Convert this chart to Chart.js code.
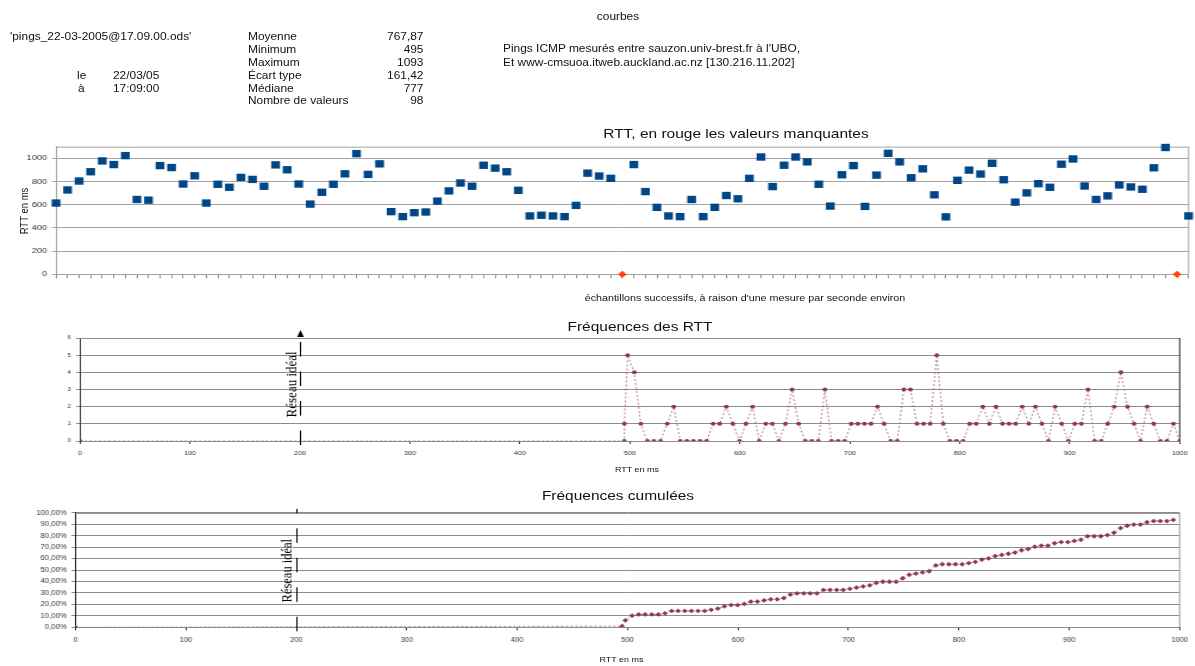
<!DOCTYPE html>
<html lang="fr">
<head>
<meta charset="utf-8">
<title>courbes</title>
<script src="https://cdn.jsdelivr.net/npm/chart.js@4.4.1/dist/chart.umd.min.js"></script>
<style>
  html, body { margin: 0; padding: 0; background: #fff; overflow: hidden; }
  /* l'original est étiré en largeur : on dessine à l'échelle 1 puis on étire */
  #page { --s: 1.19; position: absolute; left: 0; top: 0; width: calc(1195px / 1.19); height: 666px;
          transform: scaleX(1.19); transform-origin: 0 0; }
  .t { position: absolute; white-space: nowrap; font-family: "Liberation Sans", Arial, sans-serif;
       font-size: 10px; line-height: 1; color: #111; transform: translate(0, -50%); }
  .c { transform: translate(-50%, -50%); }
  .r { transform: translate(-100%, -50%); }
  .v { transform: translate(-50%, -50%) rotate(-90deg); }
  .titre { font-size: 13px; }
  canvas { position: absolute; left: 0; }
</style>
</head>
<body>
<div id="page">
  <!-- en-tête -->
  <div class="t" style="left:calc(10px / var(--s)); top:37px">'pings_22-03-2005@17.09.00.ods'</div>
  <div class="t" style="left:calc(77px / var(--s)); top:76px">le</div>
  <div class="t" style="left:calc(113px / var(--s)); top:76px">22/03/05</div>
  <div class="t" style="left:calc(78px / var(--s)); top:88.7px">à</div>
  <div class="t" style="left:calc(113px / var(--s)); top:88.7px">17:09:00</div>

  <div class="t" style="left:calc(248px / var(--s)); top:37px">Moyenne</div>
  <div class="t" style="left:calc(248px / var(--s)); top:50px">Minimum</div>
  <div class="t" style="left:calc(248px / var(--s)); top:63px">Maximum</div>
  <div class="t" style="left:calc(248px / var(--s)); top:75.7px">Écart type</div>
  <div class="t" style="left:calc(248px / var(--s)); top:88.5px">Médiane</div>
  <div class="t" style="left:calc(248px / var(--s)); top:101px">Nombre de valeurs</div>
  <div class="t r" style="left:calc(423.5px / var(--s)); top:37px">767,87</div>
  <div class="t r" style="left:calc(423.5px / var(--s)); top:50px">495</div>
  <div class="t r" style="left:calc(423.5px / var(--s)); top:63px">1093</div>
  <div class="t r" style="left:calc(423.5px / var(--s)); top:75.7px">161,42</div>
  <div class="t r" style="left:calc(423.5px / var(--s)); top:88.5px">777</div>
  <div class="t r" style="left:calc(423.5px / var(--s)); top:101px">98</div>

  <div class="t c" style="left:calc(618px / var(--s)); top:17.3px">courbes</div>
  <div class="t" style="left:calc(503px / var(--s)); top:49.3px">Pings ICMP mesurés entre sauzon.univ-brest.fr à l'UBO,</div>
  <div class="t" style="left:calc(503px / var(--s)); top:62.7px">Et www-cmsuoa.itweb.auckland.ac.nz [130.216.11.202]</div>

  <!-- titres des graphiques -->
  <div class="t c titre" style="left:calc(736px / var(--s)); top:132.7px">RTT, en rouge les valeurs manquantes</div>
  <div class="t v" style="left:calc(24px / var(--s)); top:211px; font-size:9.5px">RTT en ms</div>
  <div class="t c" style="left:calc(745px / var(--s)); top:297.7px; font-size:9px">échantillons successifs, à raison d'une mesure par seconde environ</div>

  <div class="t c titre" style="left:calc(640px / var(--s)); top:326px">Fréquences des RTT</div>
  <div class="t c" style="left:calc(637px / var(--s)); top:470px; font-size:7.5px">RTT en ms</div>

  <div class="t c titre" style="left:calc(618px / var(--s)); top:495px">Fréquences cumulées</div>
  <div class="t c" style="left:calc(621.5px / var(--s)); top:660px; font-size:7.5px">RTT en ms</div>

  <canvas id="rtt" width="1004" height="145" style="top:138px"></canvas>
  <canvas id="freq" width="1004" height="135" style="top:330px"></canvas>
  <canvas id="cumul" width="1004" height="145" style="top:505px"></canvas>
</div>

<script>
const S = 1.19;             // étirement horizontal de l'image d'origine
const u = v => v / S;       // px de référence -> px du canvas

// --- Données ---
// RTT successifs (ms), null = valeur manquante (en rouge)
const rtt = [
  614, 727, 804, 884, 977, 946, 1023, 645, 639, 937,
  920, 778, 849, 614, 776, 750, 835, 818, 759, 943,
  901, 778, 605, 707, 776, 866, 1040, 861, 952, 540,
  497, 531, 537, 631, 719, 787, 759, 940, 915, 884,
  724, 503, 509, 503, 497, 594, 872, 847, 827, null,
  946, 713, 577, 503, 497, 645, 497, 577, 679, 651,
  827, 1011, 756, 940, 1011, 969, 776, 588, 858, 937,
  585, 855, 1043, 969, 832, 909, 685, 495, 810, 898,
  864, 957, 815, 622, 702, 781, 750, 949, 994, 761,
  645, 676, 770, 753, 733, 918, 1093, null, 503
];
const echantillons = rtt.map((_, i) => i + 1);
const manquantes = rtt.map(v => (v === null ? 0 : null));

// classes de RTT (ms) de l'histogramme
const classesRTT = [
  495, 498.0, 504.0, 510.0, 515.9, 521.9, 527.9, 533.9, 539.9, 545.8,
  551.8, 557.8, 563.8, 569.8, 575.7, 581.7, 587.7, 593.7, 599.7, 605.6,
  611.6, 617.6, 623.6, 629.6, 635.5, 641.5, 647.5, 653.5, 659.5, 665.4,
  671.4, 677.4, 683.4, 689.4, 695.3, 701.3, 707.3, 713.3, 719.3, 725.2,
  731.2, 737.2, 743.2, 749.2, 755.1, 761.1, 767.1, 773.1, 779.1, 785.0,
  791.0, 797.0, 803.0, 809.0, 814.9, 820.9, 826.9, 832.9, 838.9, 844.8,
  850.8, 856.8, 862.8, 868.8, 874.7, 880.7, 886.7, 892.7, 898.7, 904.6,
  910.6, 916.6, 922.6, 928.6, 934.5, 940.5, 946.5, 952.5, 958.5, 964.4,
  970.4, 976.4, 982.4, 988.4, 994.3
];
const frequences = [
  1, 5, 4, 1, 0, 0, 0, 1, 2, 0,
  0, 0, 0, 0, 1, 1, 2, 1, 0, 1,
  2, 0, 1, 1, 0, 1, 3, 1, 0, 0,
  0, 3, 0, 0, 0, 1, 1, 1, 1, 2,
  1, 0, 0, 3, 3, 1, 1, 1, 5, 1,
  0, 0, 0, 1, 1, 2, 1, 2, 1, 1,
  1, 2, 1, 2, 1, 0, 2, 1, 0, 1,
  1, 3, 0, 0, 1, 2, 4, 2, 1, 0,
  2, 1, 0, 0, 1
];
const frequencesCumulees = [
  1.02, 6.12, 10.20, 11.22, 11.22, 11.22, 11.22, 12.24, 14.29, 14.29,
  14.29, 14.29, 14.29, 14.29, 15.31, 16.33, 18.37, 19.39, 19.39, 20.41,
  22.45, 22.45, 23.47, 24.49, 24.49, 25.51, 28.57, 29.59, 29.59, 29.59,
  29.59, 32.65, 32.65, 32.65, 32.65, 33.67, 34.69, 35.71, 36.73, 38.78,
  39.80, 39.80, 39.80, 42.86, 45.92, 46.94, 47.96, 48.98, 54.08, 55.10,
  55.10, 55.10, 55.10, 56.12, 57.14, 59.18, 60.20, 62.24, 63.27, 64.29,
  65.31, 67.35, 68.37, 70.41, 71.43, 71.43, 73.47, 74.49, 74.49, 75.51,
  76.53, 79.59, 79.59, 79.59, 80.61, 82.65, 86.73, 88.78, 89.80, 89.80,
  91.84, 92.86, 92.86, 92.86, 93.88
];
const reseauIdeal = 200; // ms

// --- Plugins ---
// trait du haut et de droite de la zone de tracé
const cadre = {
  id: 'cadre',
  beforeDatasetsDraw(chart, args, opts) {
    const { ctx, chartArea: a } = chart;
    ctx.save();
    ctx.lineWidth = 1;
    ctx.strokeStyle = opts.haut;
    ctx.beginPath();
    ctx.moveTo(a.left, a.top + 0.5);
    ctx.lineTo(a.right, a.top + 0.5);
    ctx.stroke();
    ctx.strokeStyle = opts.droite;
    ctx.beginPath();
    ctx.moveTo(a.right, a.top);
    ctx.lineTo(a.right, a.bottom);
    ctx.stroke();
    ctx.restore();
  }
};

// ligne verticale "Réseau idéal"
const repere = {
  id: 'repere',
  afterDatasetsDraw(chart, args, opts) {
    const { ctx, scales: { x, y } } = chart;
    const px = Math.round(x.getPixelForValue(opts.valeur)) + 0.5;
    ctx.save();
    ctx.strokeStyle = '#000';
    ctx.lineWidth = 1;
    ctx.setLineDash([14.5, 15]);
    ctx.beginPath();
    ctx.moveTo(px, y.bottom + 4);
    ctx.lineTo(px, y.top - opts.depasse);
    ctx.stroke();
    ctx.setLineDash([]);
    if (opts.fleche) {
      ctx.fillStyle = '#000';
      ctx.beginPath();
      ctx.moveTo(px, y.top - 8);
      ctx.lineTo(px + 2.8, y.top - 1);
      ctx.lineTo(px - 2.8, y.top - 1);
      ctx.closePath();
      ctx.fill();
    }
    ctx.translate(px - 7.3, y.getPixelForValue(opts.texteY));
    ctx.rotate(-Math.PI / 2);
    ctx.font = opts.police;
    ctx.fillStyle = '#000';
    ctx.textAlign = 'center';
    ctx.textBaseline = 'middle';
    ctx.fillText('Réseau idéal', 0, 0);
    ctx.restore();
  }
};

const police = (taille) => ({ family: '"Liberation Sans", Arial, sans-serif', size: taille });
const brut = v => String(v);   // pas de séparateur de milliers
const pourcent = v => v.toFixed(2).replace('.', ',') + '%';

// --- Graphique 1 : RTT ---
new Chart(document.getElementById('rtt'), {
  type: 'line',
  data: {
    labels: echantillons,
    datasets: [
      {
        data: rtt, showLine: false, clip: false,
        pointStyle: 'rect', pointRadius: 5.2, pointBorderWidth: 0,
        backgroundColor: '#004586', borderColor: '#004586'
      },
      {
        data: manquantes, showLine: false, clip: false,
        pointStyle: 'rectRot', pointRadius: 3.6, pointBorderWidth: 0,
        backgroundColor: '#ff420e', borderColor: '#ff420e'
      }
    ]
  },
  options: {
    responsive: false, animation: false, events: [],
    layout: { padding: { top: 7, right: u(4), left: 0, bottom: 0 } },
    plugins: {
      legend: { display: false }, tooltip: { enabled: false },
      cadre: { haut: '#a3a3a3', droite: '#a3a3a3' }
    },
    scales: {
      x: {
        type: 'category', offset: false,
        grid: { drawOnChartArea: false, drawTicks: true, tickLength: 4, color: '#8f8f8f' },
        border: { display: false },
        ticks: { display: false },
        afterFit: s => { s.height = 8.7; }
      },
      y: {
        min: 0, max: 1100,
        ticks: { stepSize: 200, includeBounds: false, padding: 4, color: '#333', font: police(7.8), callback: brut },
        grid: { color: '#a3a3a3', tickLength: 3.4 },
        border: { color: '#a3a3a3' },
        afterFit: s => { s.width = u(56); }
      }
    }
  },
  plugins: [cadre]
});

// --- Graphique 2 : fréquences ---
const pointsFreq = [{ x: 0, y: 0 }, { x: 495, y: 0 }]
  .concat(classesRTT.map((x, i) => ({ x: x, y: frequences[i] })))
  .concat([{ x: 1000, y: 0 }]);

new Chart(document.getElementById('freq'), {
  type: 'scatter',
  data: {
    datasets: [{
      data: pointsFreq, showLine: true, tension: 0,
      borderColor: '#a55a80', borderWidth: 0.8, borderDash: [2, 2],
      pointStyle: 'circle', pointRadius: 2, pointBorderWidth: 0,
      backgroundColor: '#8e355f'
    }]
  },
  options: {
    responsive: false, animation: false, events: [],
    layout: { padding: { top: 8, right: u(11), left: 0, bottom: 0 } },
    plugins: {
      legend: { display: false }, tooltip: { enabled: false },
      cadre: { haut: '#8c8c8c', droite: '#222' },
      repere: { valeur: reseauIdeal, depasse: 0, fleche: true, texteY: 3.3, police: '13px "Liberation Serif", serif' }
    },
    scales: {
      x: {
        type: 'linear', min: 0, max: 1000,
        ticks: { stepSize: 100, padding: 6, color: '#333', font: police(6), callback: brut },
        grid: { drawOnChartArea: false, drawTicks: true, tickLength: 3, color: '#333' },
        border: { display: false },
        afterFit: s => { s.height = 24; }
      },
      y: {
        min: 0, max: 6,
        ticks: { stepSize: 1, padding: 4.4, color: '#333', font: police(5) },
        grid: { color: '#8c8c8c', tickLength: 3.4 },
        border: { color: '#333' },
        afterFit: s => { s.width = u(80); }
      }
    }
  },
  plugins: [cadre, repere]
});

// --- Graphique 3 : fréquences cumulées ---
const pointsCumul = [{ x: 0, y: 0 }]
  .concat(classesRTT.map((x, i) => ({ x: x, y: frequencesCumulees[i] })));

new Chart(document.getElementById('cumul'), {
  type: 'scatter',
  data: {
    datasets: [{
      data: pointsCumul, showLine: true, tension: 0,
      borderColor: '#a55a80', borderWidth: 0.8, borderDash: [2, 2],
      pointStyle: 'rectRot', pointRadius: 2.4, pointBorderWidth: 0,
      backgroundColor: '#8e355f'
    }]
  },
  options: {
    responsive: false, animation: false, events: [],
    layout: { padding: { top: 7, right: u(10), left: 0, bottom: 0 } },
    plugins: {
      legend: { display: false }, tooltip: { enabled: false },
      cadre: { haut: '#8c8c8c', droite: '#9a9a9a' },
      repere: { valeur: reseauIdeal, depasse: 4, fleche: false, texteY: 49.5, police: '12.5px "Liberation Serif", serif' }
    },
    scales: {
      x: {
        type: 'linear', min: 0, max: 1000,
        ticks: { stepSize: 100, padding: 5.7, color: '#333', font: police(6.3), callback: brut },
        grid: { drawOnChartArea: false, drawTicks: true, tickLength: 3, color: '#333' },
        border: { display: false },
        afterFit: s => { s.height = 22.7; }
      },
      y: {
        min: 0, max: 100,
        ticks: { stepSize: 10, padding: 4, color: '#333', font: police(6.5), callback: pourcent },
        grid: { color: '#8c8c8c', tickLength: 3.4 },
        border: { color: '#222' },
        afterFit: s => { s.width = u(75.5); }
      }
    }
  },
  plugins: [cadre, repere]
});
</script>
</body>
</html>
